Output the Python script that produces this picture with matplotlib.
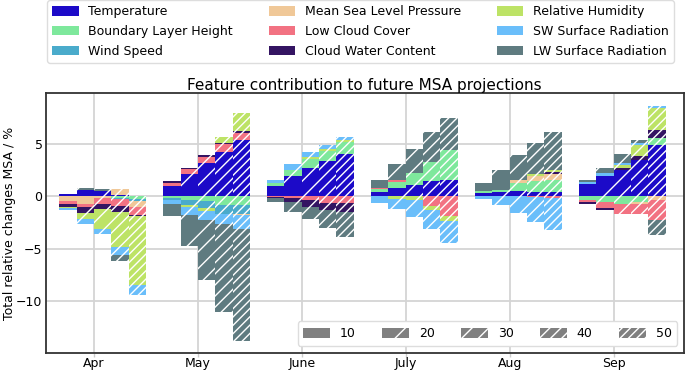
import numpy as np
import matplotlib
matplotlib.use('Agg')
import matplotlib.pyplot as plt
from matplotlib.patches import Patch

months = ['Apr', 'May', 'June', 'July', 'Aug', 'Sep']
periods = ['10', '20', '30', '40', '50']
hatches = ['', '/', '//', '///', '////']

# values per month (rows) and period bar (columns), % change
temperature = [[0.22, 0.57, 0.45, 0.15, 0.0],
               [1.0, 2.15, 3.16, 4.2, 5.38],
               [1.0, 1.9, 2.72, 3.35, 3.99],
               [0.44, 0.73, 1.04, 1.46, 1.52],
               [0.32, 0.38, 0.47, 0.41, 0.41],
               [1.2, 1.96, 2.53, 3.48, 4.84]]
boundary_layer = [[0, 0, 0, -0.2, -0.3],
                  [-0.13, -0.38, -0.45, -0.85, -0.85],
                  [0.25, 0.57, 0.85, 0.9, 1.17],
                  [0.25, 0.63, 1.17, 1.8, 2.85],
                  [0.16, 0.19, 0.8, 1.04, 1.1],
                  [-0.32, -0.54, -0.76, -0.54, 0.73]]
wind_speed = [[0, 0, 0, -0.1, -0.2],
              [-0.25, -0.45, -0.7, -0.8, -0.85],
              [0, 0, 0, 0, 0],
              [0, 0, 0, 0, 0],
              [0, 0, 0, 0, 0],
              [0, 0, 0, 0, 0]]
mslp = [[-0.5, -0.7, -0.2, 0.5, -0.5],
        [0, 0, 0, 0, -0.13],
        [0, 0, 0, 0, 0],
        [0, 0, 0, 0, 0],
        [0, 0, 0.25, 0.44, 0.63],
        [0, 0, 0, -0.16, -0.32]]
low_cloud = [[-0.2, -0.35, -0.55, -0.6, -0.8],
             [0.25, 0.4, 0.57, 0.73, 0.63],
             [-0.1, -0.22, -0.38, -0.63, -0.63],
             [0.13, 0.16, 0, -0.95, -1.9],
             [0, 0, 0, -0.06, -0.13],
             [-0.22, -0.54, -0.89, -1.0, -1.9]]
cloud_water = [[-0.3, -0.55, -0.5, -0.6, -0.1],
               [0.2, 0.16, 0.16, 0.13, 0.2],
               [-0.1, -0.32, -0.63, -0.7, -0.85],
               [0, 0, 0, 0, 0],
               [0, 0, 0, 0, 0.16],
               [-0.19, -0.19, 0.1, 0.32, 0.76]]
rel_humidity = [[-0.1, -0.6, -1.9, -3.35, -6.55],
                [0, -0.2, -0.3, 0.57, 1.65],
                [0, 0, 0.16, 0.22, 0.16],
                [0, -0.25, -0.4, -0.32, -0.44],
                [0, 0, 0.05, 0.19, 0.22],
                [0, 0, 0.32, 1.1, 2.09]]
sw_radiation = [[-0.2, -0.4, -0.45, -0.75, -0.95],
                [-0.38, -0.8, -0.85, -0.95, -1.33],
                [0.32, 0.57, 0.44, 0.4, 0.32],
                [-0.63, -1.0, -1.6, -1.84, -2.15],
                [-0.25, -0.85, -1.58, -2.44, -3.04],
                [0.13, 0.25, 0.22, 0.16, 0.19]]
lw_radiation = [[0, 0.16, 0.2, -0.55, 0],
                [-1.14, -2.9, -5.7, -8.4, -10.6],
                [-0.4, -0.95, -1.2, -1.74, -2.37],
                [0.7, 1.58, 2.3, 2.85, 3.1],
                [0.73, 1.96, 2.37, 2.97, 3.58],
                [0.19, 0.5, 0.8, 0.25, -1.5]]

feature_names = ['Temperature', 'Boundary Layer Height', 'Wind Speed',
                 'Mean Sea Level Pressure', 'Low Cloud Cover', 'Cloud Water Content',
                 'Relative Humidity', 'SW Surface Radiation', 'LW Surface Radiation']
feature_colors = ['#1c0ac8', '#7ee89c', '#4aabcb', '#f0c898', '#f27282',
                  '#341462', '#bde366', '#6abefa', '#5f7b80']
feature_data = [temperature, boundary_layer, wind_speed, mslp, low_cloud,
                cloud_water, rel_humidity, sw_radiation, lw_radiation]

plt.rcParams['hatch.color'] = 'white'
plt.rcParams['hatch.linewidth'] = 1.0
plt.rcParams['font.family'] = ['DejaVu Sans']

fig = plt.figure(figsize=(6.85, 3.70), dpi=100)
ax = fig.add_axes([46 / 685, 1 - 353 / 370, (683.5 - 46) / 685, (353 - 93) / 370])

x = np.arange(len(months))
w = 1 / 6
for j in range(len(periods)):
    pos_bottom = np.zeros(len(months))
    neg_bottom = np.zeros(len(months))
    for name, data, col in zip(feature_names, feature_data, feature_colors):
        vals = np.array(data, dtype=float)[:, j]
        pos = np.where(vals > 0, vals, 0)
        neg = np.where(vals < 0, vals, 0)
        ax.bar(x + (j - 2) * w, pos, width=w, bottom=pos_bottom, align='edge',
               color=col, hatch=hatches[j], linewidth=0, zorder=3)
        ax.bar(x + (j - 2) * w, neg, width=w, bottom=neg_bottom, align='edge',
               color=col, hatch=hatches[j], linewidth=0, zorder=3)
        pos_bottom += pos
        neg_bottom += neg

ax.set_xlim(-0.46, 5.67)
ax.set_ylim(-14.9, 9.8)
ax.set_xticks(x)
ax.set_xticklabels(months, fontsize=9)
ax.set_yticks([-10, -5, 0, 5])
ax.tick_params(axis='y', labelsize=9, length=0, pad=2.5)
ax.tick_params(axis='x', length=3, width=1, color='#cccccc', pad=0.2)
ax.grid(True, color='#d4d4d4', linewidth=1.3, zorder=0)
ax.set_axisbelow(True)
for s in ax.spines.values():
    s.set_color('#333333')
    s.set_linewidth(1.3)
ax.set_ylabel('Total relative changes MSA / %', fontsize=9)
ax.yaxis.set_label_coords(-0.0475, 0.5)
ax.set_title('Feature contribution to future MSA projections', fontsize=11, pad=2)

feat_handles = [Patch(facecolor=c, label=n) for n, c in zip(feature_names, feature_colors)]
fig.legend(handles=feat_handles, ncol=3, mode='expand',
           loc='center', bbox_to_anchor=(41 / 685, 1 - 62 / 370, (680 - 41) / 685, 61 / 370),
           fontsize=9, handlelength=2.1, handleheight=0.8, labelspacing=0.55,
           borderpad=0.4, framealpha=1, edgecolor='#dddddd')

per_handles = [Patch(facecolor='#808080', hatch=h, linewidth=0, label=p)
               for p, h in zip(periods, hatches)]
ax.legend(handles=per_handles, ncol=5, loc='lower right', fontsize=9,
          handlelength=2.1, handleheight=0.8, columnspacing=2.15, borderpad=0.45,
          bbox_to_anchor=(1.0, 0.004), framealpha=1, edgecolor='#dddddd')

fig.savefig('out.png', dpi=100)
